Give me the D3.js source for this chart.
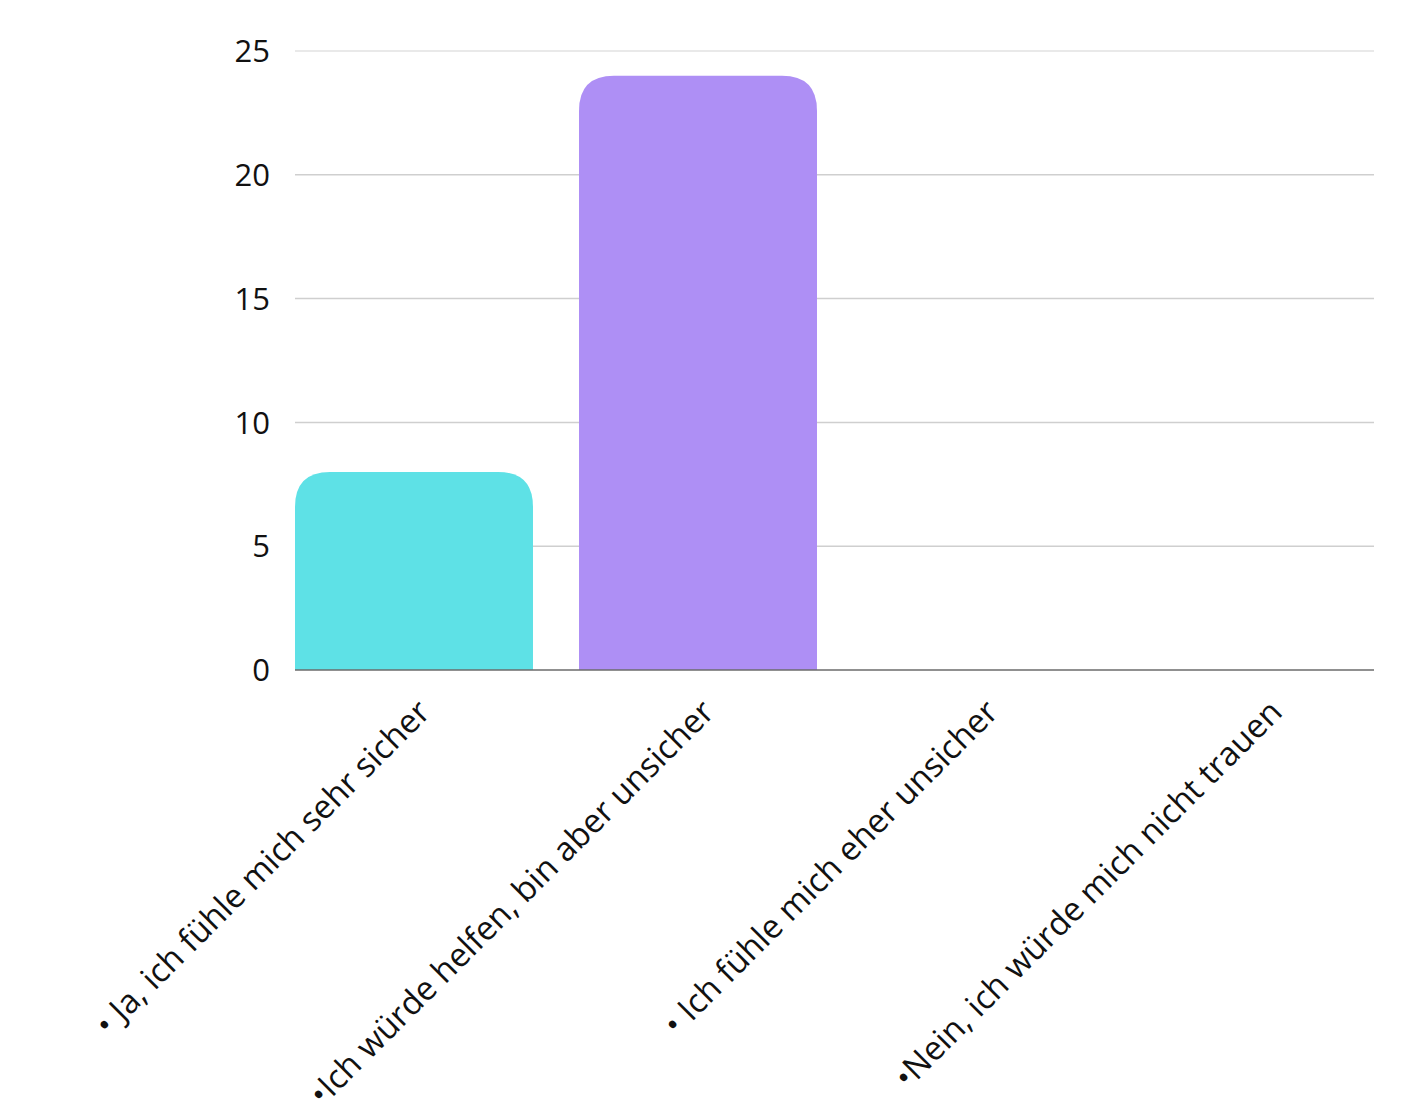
<!DOCTYPE html>
<html>
<head>
<meta charset="utf-8">
<script src="https://cdn.jsdelivr.net/npm/d3@7"></script>
<style>
  body { margin: 0; background: #fff; }
  svg text { font-family: "Open Sans", Inter, sans-serif; fill: #111; }
</style>
</head>
<body>
<svg id="chart" width="1413" height="1113"></svg>
<script>
// answers and counts
const categories = [
  '• Ja, ich fühle mich sehr sicher',
  '•Ich würde helfen, bin aber unsicher',
  '• Ich fühle mich eher unsicher',
  '•Nein, ich würde mich nicht trauen'
];
const counts = [8, 24, 0, 0];
const barColors = ['#5ee1e6', '#ae8ff5', '#f5a35e', '#f56e8f'];
const yTicks = [0, 5, 10, 15, 20, 25];

const svg = d3.select('#chart');

const plotLeft = 295, plotRight = 1374, plotTop = 51, plotBottom = 670;

const x = d3.scaleBand()
  .domain(categories)
  .range([plotLeft, plotLeft + 1090])
  .paddingInner(0.162)
  .paddingOuter(0);

const y = d3.scaleLinear().domain([0, 25]).range([plotBottom, plotTop]);

// grid
svg.append('g')
  .selectAll('line')
  .data(yTicks.filter(d => d > 0))
  .join('line')
  .attr('x1', plotLeft)
  .attr('x2', plotRight)
  .attr('y1', d => y(d))
  .attr('y2', d => y(d))
  .attr('stroke', (d) => d === 25 ? '#e2e2e2' : '#cfcfcf')
  .attr('stroke-width', 1.5);

// y labels
svg.append('g')
  .selectAll('text')
  .data(yTicks)
  .join('text')
  .attr('x', 270)
  .attr('y', d => y(d))
  .attr('dy', '0.36em')
  .attr('text-anchor', 'end')
  .attr('font-family', 'Inter, sans-serif')
  .attr('font-size', 31)
  .text(d => d);

// rounded-top bars
const r = 35;
const barPath = (d, i) => {
  const x0 = x(categories[i]);
  const w = x.bandwidth();
  const y0 = y(d);
  const h = plotBottom - y0;
  if (h <= 0) return '';
  const rr = Math.min(r, h, w / 2);
  return `M${x0},${plotBottom}V${y0 + rr}Q${x0},${y0} ${x0 + rr},${y0}` +
    `H${x0 + w - rr}Q${x0 + w},${y0} ${x0 + w},${y0 + rr}V${plotBottom}Z`;
};

svg.append('g')
  .selectAll('path')
  .data(counts)
  .join('path')
  .attr('d', barPath)
  .attr('fill', (d, i) => barColors[i]);

// baseline
svg.append('line')
  .attr('x1', plotLeft)
  .attr('x2', plotRight)
  .attr('y1', plotBottom)
  .attr('y2', plotBottom)
  .attr('stroke', '#6b6b6b')
  .attr('stroke-width', 1.5);

// x labels, rotated
svg.append('g')
  .selectAll('text')
  .data(categories)
  .join('text')
  .attr('transform', d => `translate(${x(d) + x.bandwidth() / 2 + 18},${plotBottom + 44}) rotate(-45)`)
  .attr('text-anchor', 'end')
  .attr('font-size', 33)
  .text(d => d);
</script>
</body>
</html>
